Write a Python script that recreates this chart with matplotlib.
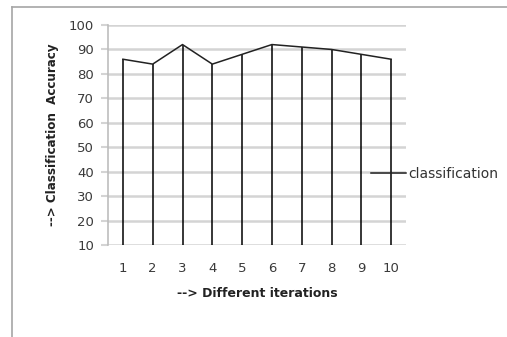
import numpy as np
import matplotlib.pyplot as plt
from matplotlib.lines import Line2D

iterations = [1, 2, 3, 4, 5, 6, 7, 8, 9, 10]
accuracy = [86, 84, 92, 84, 88, 92, 91, 90, 88, 86]
y_ticks = [10, 20, 30, 40, 50, 60, 70, 80, 90, 100]

W, H = 507, 337
fig = plt.figure(figsize=(W / 100, H / 100), dpi=100)
fig.patch.set_facecolor('white')

# frame of the chart (only top and left visible in the crop)
fig.add_artist(Line2D([12 / W, 12 / W], [0, 1 - 7 / H], color='#a6a6a6', lw=1.2))
fig.add_artist(Line2D([12 / W, 1], [1 - 7 / H, 1 - 7 / H], color='#a6a6a6', lw=1.2))

ax = fig.add_axes([108 / W, 1 - 245 / H, 298 / W, 220 / H])
grid_c = '#d4d4d4'
for v in y_ticks:
    ax.axhline(v, color=grid_c, lw=1.8, zorder=1)

ax.vlines(iterations, 10, accuracy, color='black', lw=1.1, zorder=3)
ax.plot(iterations, accuracy, color='#222222', lw=1.1, zorder=4, label='classification')

ax.set_xlim(0.5, 10.5)
ax.set_ylim(10, 100)
ax.set_yticks(y_ticks)
ax.set_xticks(iterations)
for s in ['top', 'right', 'bottom']:
    ax.spines[s].set_visible(False)
ax.spines['left'].set_color('#bdbdbd')
ax.spines['left'].set_linewidth(1.2)
ax.tick_params(axis='y', length=5, color=grid_c, width=1.5, labelsize=9.5,
               labelcolor='#3a3a3a', pad=5)
ax.tick_params(axis='x', length=0, labelsize=9.5, labelcolor='#3a3a3a', pad=12)

ax.set_xlabel('--> Different iterations', fontsize=9, fontweight='bold',
              color='#222222', labelpad=9)
fig.text(53 / W, 1 - 135 / H, '--> Classification  Accuracy', rotation=90,
         ha='center', va='center', fontsize=9.5, fontweight='bold',
         color='#222222', fontstretch='condensed')

ax.legend(loc='center left', bbox_to_anchor=(0.84, 0.325), frameon=False,
          fontsize=10, handlelength=2.5, handletextpad=0.2,
          labelcolor='#333333')

fig.savefig('out.png', dpi=100)
